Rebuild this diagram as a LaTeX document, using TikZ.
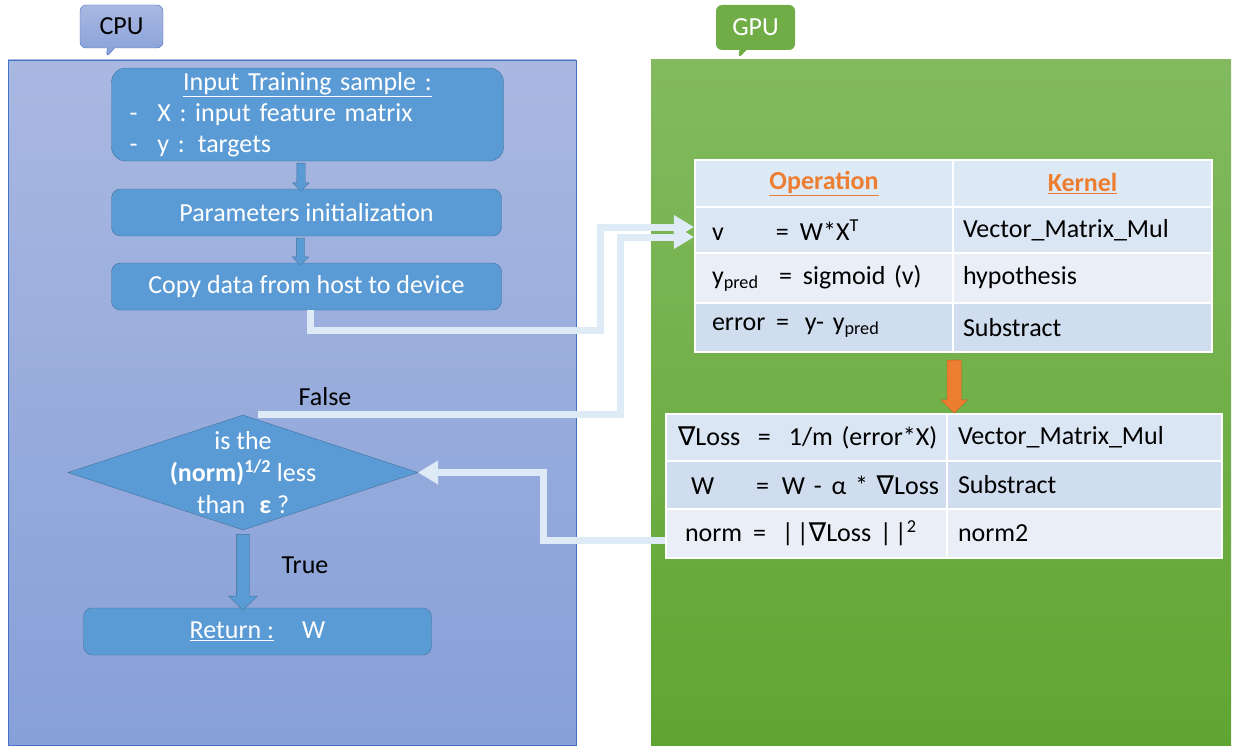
\documentclass[tikz,border=0pt]{standalone}
\usepackage{fontspec}
\setmainfont{Carlito}
\newfontfamily\nablafont{DejaVu Sans}
\usetikzlibrary{shapes.geometric,shapes.arrows,shapes.callouts,arrows.meta}
\setlength{\parindent}{0pt}

\definecolor{cpuTop}{HTML}{A9B8E1}
\definecolor{cpuBot}{HTML}{87A0D8}
\definecolor{gpuTop}{HTML}{83BA60}
\definecolor{gpuBot}{HTML}{60A531}
\definecolor{cpuLine}{HTML}{4472C4}
\definecolor{gpuFill}{HTML}{70AD47}
\definecolor{boxFill}{HTML}{5B9BD5}
\definecolor{boxLine}{HTML}{41719C}
\definecolor{flowCol}{HTML}{DEEBF7}
\definecolor{kernOrange}{HTML}{ED7D31}
\definecolor{rowHead}{HTML}{DDEAF6}
\definecolor{rowA}{HTML}{DAE6F4}
\definecolor{rowB}{HTML}{E9EEF7}
\definecolor{rowC}{HTML}{CFDDEE}

\newcommand{\gradsym}{{\nablafont ∇}}

\tikzset{
  box/.style={draw=boxLine, fill=boxFill, rounded corners=9pt, text=white, minimum width=390, minimum height=47, inner sep=0pt},
  decision/.style={diamond, draw=boxLine, fill=boxFill, minimum width=350, minimum height=115, inner sep=0pt},
  cell/.style 2 args={draw=white, line width=2.5pt, inner sep=0pt, text width=#1pt, minimum height=#2pt, align=left},
  flow/.style={draw=flowCol, line width=7pt, -{Triangle[length=20pt,width=24pt,line width=1pt]}},
  barrow/.style={single arrow, draw=boxLine, fill=boxFill, shape border rotate=270, single arrow tip angle=90},
}

\begin{document}
\begin{tikzpicture}[x=1pt, y=-1pt, font=\fontsize{26}{31}\selectfont]
\useasboundingbox (0,0) rectangle (1257,752);
\draw[cpuLine, top color=cpuTop, bottom color=cpuBot] (8,60) rectangle (576,745);
\fill[top color=gpuTop, bottom color=gpuBot] (651,60) rectangle (1231,745);

\node[rectangle callout, draw=cpuLine, top color=cpuTop, bottom color=cpuBot, rounded corners=6pt, minimum width=83, minimum height=43, callout absolute pointer={(106,58)}] (cpu) at (121.5,26.5) {CPU};
\node[rectangle callout, fill=gpuFill, text=white, rounded corners=6pt, minimum width=79, minimum height=45, callout absolute pointer={(738,59)}] (gpu) at (755.5,27.5) {GPU};

\node[box, minimum height=93, rounded corners=14pt, text width=356pt, inner xsep=18pt, align=left] (input) at (307.5,114.5)
  {\makebox[356pt]{\underline{Input Training sample :}}\\ -\hspace{20pt}X : input feature matrix\\ -\hspace{20pt}y : targets};
\node[box] (init) at (306.5,212.5) {Parameters initialization};
\node[box] (copy) at (306.5,286.5) {Copy data from host to device};
\node[decision] (dec) at (243,472.5) {};
\node[align=center, text=white, font=\fontsize{26}{32}\selectfont] (dectext) at (dec.center)
  {is the\\\textbf{(norm)\textsuperscript{1/2}} less\\than\hspace{14pt}\textbf{ε} ?};
\node[box, minimum width=348] (ret) at (257.5,631.5) {\underline{Return :}\hspace{28pt}W};
\node (false) at (325,397) {False};
\node (true) at (305,565) {True};

\node[cell={258}{47}, fill=rowHead, align=center] (h1) at (824,183.5) {\textcolor{kernOrange}{\textbf{\underline{Operation}}}};
\node[cell={259}{47}, fill=rowHead, align=center] (h2) at (1082.5,183.5) {\textcolor{kernOrange}{\textbf{\underline{Kernel}}}};
\node[cell={258}{46}, fill=rowA] (r1a) at (824,230) {\hspace*{17pt}\makebox[64pt][l]{v}=\hspace{11pt}W*X\textsuperscript{T}};
\node[cell={259}{46}, fill=rowA] (r1b) at (1082.5,230) {\hspace*{10pt}Vector\_Matrix\_Mul};
\node[cell={258}{50}, fill=rowB] (r2a) at (824,278) {\hspace*{17pt}\makebox[67pt][l]{y\textsubscript{pred}}=\hspace{11pt}sigmoid (v)};
\node[cell={259}{50}, fill=rowB] (r2b) at (1082.5,278) {\hspace*{10pt}hypothesis};
\node[cell={258}{49}, fill=rowC] (r3a) at (824,327.5) {\hspace*{17pt}\makebox[64pt][l]{error}=\hspace{16pt}y- y\textsubscript{pred}};
\node[cell={259}{49}, fill=rowC] (r3b) at (1082.5,327.5) {\hspace*{10pt}Substract};

\node[cell={281}{47}, fill=rowA] (s1a) at (806.5,437.5) {\hspace*{12pt}\makebox[80pt][l]{\gradsym Loss}=\hspace{18pt}1/m (error*X)};
\node[cell={275}{47}, fill=rowA] (s1b) at (1084.5,437.5) {\hspace*{11pt}Vector\_Matrix\_Mul};
\node[cell={281}{48}, fill=rowC] (s2a) at (806.5,485) {\hspace*{25pt}\makebox[65pt][l]{W}=\hspace{13pt}W -\hspace{10pt}α * \gradsym Loss};
\node[cell={275}{48}, fill=rowC] (s2b) at (1084.5,485) {\hspace*{11pt}Substract};
\node[cell={281}{49}, fill=rowB] (s3a) at (806.5,533.5) {\hspace*{19pt}\makebox[68pt][l]{norm}=\hspace{16pt}|\kern3pt|\gradsym Loss |\kern3pt|\textsuperscript{2}};
\node[cell={275}{49}, fill=rowB] (s3b) at (1084.5,533.5) {\hspace*{11pt}norm2};

\path ([xshift=-6pt]input.south) -- ([xshift=-6pt]init.north) node[midway, barrow, inner sep=4pt, minimum height=28, single arrow head extend=4pt] {};
\path ([xshift=-6pt]init.south) -- ([xshift=-6pt]copy.north) node[midway, barrow, inner sep=4pt, minimum height=27, single arrow head extend=4pt] {};
\path (dec.south) -- (dec.south |- ret.north) node[midway, barrow, inner sep=6.5pt, minimum height=76, single arrow head extend=7.5pt] {};
\path (r3a.south east) -- (r3a.south east |- s1b.north) node[midway, barrow, draw=kernOrange!80!black, fill=kernOrange, inner sep=7pt, minimum height=53, single arrow head extend=6pt] {};

\draw[flow] ([xshift=4pt]copy.south) |- (600,330) |- ([yshift=3pt]r1a.west);
\draw[flow] ([xshift=15pt]dec.north) -| (620,237) -- ([yshift=-7pt]r1a.west);
\draw[flow] ([yshift=-7pt]s3a.west) -| (543,472.5) -- (dec.east);
\end{tikzpicture}
\end{document}
